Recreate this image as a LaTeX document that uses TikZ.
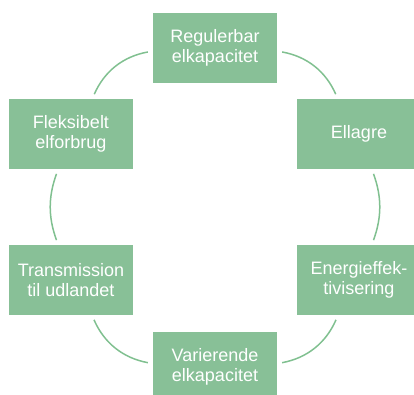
\documentclass[tikz,border=0pt]{standalone}
\usepackage{fontspec}
\setmainfont{Liberation Sans}
\usetikzlibrary{positioning}
\definecolor{boxgreen}{RGB}{136,192,151}
\definecolor{linegreen}{RGB}{128,192,144}

\begin{document}
\begin{tikzpicture}[x=1pt,y=1pt,
  block/.style={rectangle,fill=boxgreen,text=white,minimum width=124pt,minimum height=70pt,inner sep=0pt,align=center,font=\fontsize{18}{19.5}\selectfont},
  link/.style={draw=linegreen,line width=1.5pt,shorten <=5pt,shorten >=5pt}]
\useasboundingbox (0,0) rectangle (414,394);

\node[block] (reg) at (215,346) {Regulerbar\\elkapacitet};
\node[block] (ell) at (359,260) {Ellagre};
\node[block] (eng) at (359,114) {Energieffek-\\tivisering};
\node[block] (var) at (215,27) {Varierende\\elkapacitet};
\node[block] (tra) at (71,114) {Transmission\\til udlandet};
\node[block] (fle) at (71,260) {Fleksibelt\\elforbrug};

\path[link]	(reg)	edge	[bend left=28]	(ell)
		(ell)	edge	[bend left=20]	(eng)
		(eng)	edge	[bend left=28]	(var)
		(var)	edge	[bend left=28]	(tra)
		(tra)	edge	[bend left=20]	(fle)
		(fle)	edge	[bend left=28]	(reg);
\end{tikzpicture}
\end{document}
